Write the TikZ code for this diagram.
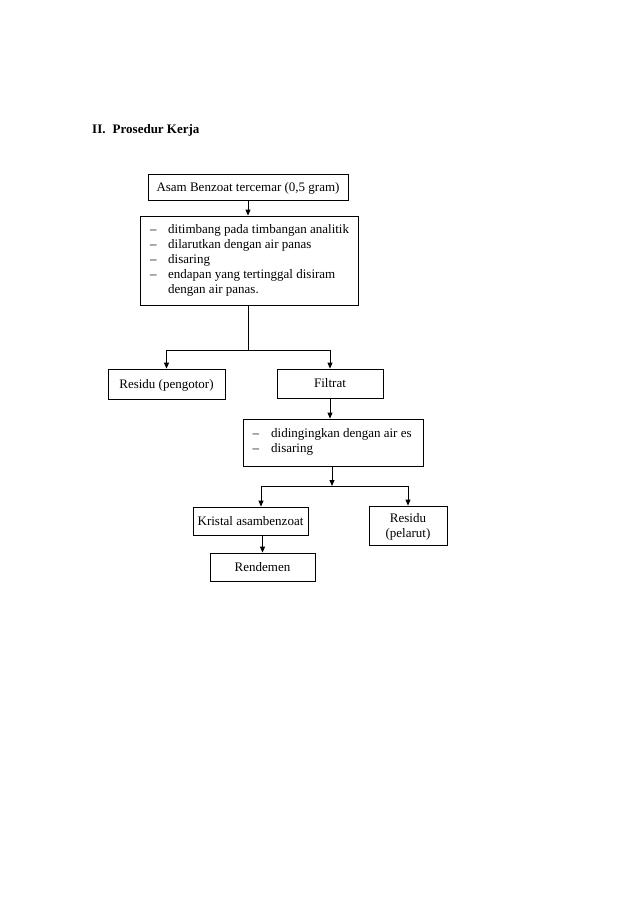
\documentclass[tikz,border=0pt]{standalone}
\usepackage{fontspec}
\setmainfont{Liberation Serif}
\usetikzlibrary{arrows.meta}
\begin{document}
\begin{tikzpicture}[x=1pt,y=-1pt,
  box/.style={draw, line width=0.8pt, inner sep=0pt, font=\fontsize{13}{15}\selectfont, align=center, text height=8.6pt, text depth=0pt},
  txt/.style={inner sep=0pt, font=\fontsize{13}{15}\selectfont, align=left, anchor=north west},
  lbl/.style={inner sep=0pt, font=\fontsize{13}{15}\selectfont, anchor=base},
  arr/.style={line width=0.8pt, -{Triangle[length=6pt,width=5pt]}},
  ln/.style={line width=0.8pt}]
\useasboundingbox (0,0) rectangle (638,903);
\node[inner sep=0pt, anchor=base west, font=\fontsize{13}{15}\selectfont\bfseries] (title) at (92,133) {II.\hspace{0.55em}Prosedur Kerja};
\node[box, minimum width=200pt, minimum height=26pt] (b1) at (248,187) {Asam Benzoat tercemar (0,5 gram)};
\node[box, minimum width=218pt, minimum height=89pt] (b2) at (249,260.5) {};
\node[txt] (t2) at (150,223) {\begin{tabular}{@{}p{18pt}@{}l@{}}
-- & ditimbang pada timbangan analitik\\
-- & dilarutkan dengan air panas\\
-- & disaring\\
-- & endapan yang tertinggal disiram\\
   & dengan air panas.
\end{tabular}};
\coordinate (j1) at (248,350);
\coordinate (j1l) at (166.5,350);
\coordinate (j1r) at (330,350);
\node[box, minimum width=117pt, minimum height=30pt] (res) at (166.5,384) {Residu (pengotor)};
\node[box, minimum width=106pt, minimum height=29pt] (fil) at (330,383.5) {Filtrat};
\node[box, minimum width=180pt, minimum height=47pt] (b3) at (333,442.5) {};
\node[txt] (t3) at (252.5,426.8) {\begin{tabular}{@{}p{18.5pt}@{}l@{}}
-- & didingingkan dengan air es\\
-- & disaring
\end{tabular}};
\coordinate (j2) at (332,486);
\coordinate (j2l) at (261,486);
\coordinate (j2r) at (408,486);
\node[box, minimum width=115pt, minimum height=28pt] (kri) at (250.5,521) {Kristal asambenzoat};
\node[box, minimum width=78pt, minimum height=39pt] (pel) at (408,525.5) {};
\node[lbl] (pel1) at (408,522) {Residu};
\node[lbl] (pel2) at (408,537) {(pelarut)};
\node[box, minimum width=105pt, minimum height=28pt] (ren) at (262.5,567) {Rendemen};
\draw[arr] (b1.south) -- (b1.south |- b2.north);
\draw[ln] (b2.south -| j1) -- (j1);
\draw[ln] (j1l) -- (j1r);
\draw[arr] (j1l) -- (res.north);
\draw[arr] (j1r) -- (fil.north);
\draw[arr] (fil.south) -- (fil.south |- b3.north);
\draw[arr] (b3.south -| j2) -- (j2);
\draw[ln] (j2l) -- (j2r);
\draw[arr] (j2l) -- (j2l |- kri.north);
\draw[arr] (j2r) -- (pel.north);
\draw[arr] (kri.south -| ren.north) -- (ren.north);
\end{tikzpicture}
\end{document}
